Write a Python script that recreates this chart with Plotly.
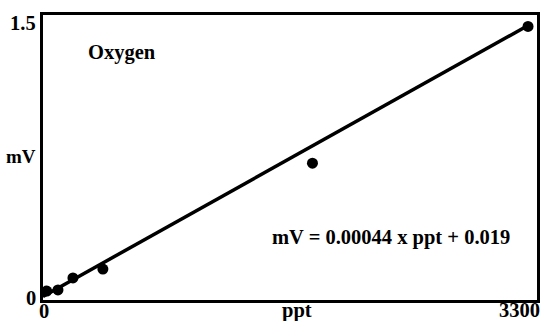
import plotly.graph_objects as go

ppt = [25, 100, 200, 400, 1800, 3240]
mv = [0.047, 0.053, 0.116, 0.163, 0.72, 1.44]
slope = 0.00044
intercept = 0.019
fit_x = [0, 3240]
fit_y = [slope * x + intercept for x in fit_x]

font = dict(family="Liberation Serif", size=20.5, color="black")

fig = go.Figure()
fig.add_trace(go.Scatter(x=fit_x, y=fit_y, mode="lines",
                         line=dict(color="black", width=3.5), showlegend=False))
fig.add_trace(go.Scatter(x=ppt, y=mv, mode="markers",
                         marker=dict(color="black", size=11), showlegend=False))


def lab(text, x, y, xanchor="center", size=20.5):
    return dict(x=x, y=y, xref="paper", yref="paper", text="<b>" + text + "</b>",
                showarrow=False, font=dict(font, size=size),
                xanchor=xanchor, yanchor="middle", borderpad=0)


fig.update_layout(
    width=542, height=321,
    margin=dict(l=43, r=5, t=15, b=21, autoexpand=False),
    plot_bgcolor="white", paper_bgcolor="white",
    font=font,
    xaxis=dict(range=[0, 3300], showgrid=False, zeroline=False,
               showline=True, linewidth=3, linecolor="black", mirror=True,
               showticklabels=False, ticks=""),
    yaxis=dict(range=[0, 1.5], showgrid=False, zeroline=False,
               showline=True, linewidth=3, linecolor="black", mirror=True,
               showticklabels=False, ticks=""),
    annotations=[
        lab("1.5", -0.012, 0.972, "right"),
        lab("0", -0.012, 0.007, "right"),
        lab("mV", -0.012, 0.502, "right", size=19),
        lab("0", 0.003, -0.037),
        lab("ppt", 0.514, -0.037),
        lab("3300", 0.921, -0.035, "left"),
        lab("Oxygen", 0.16, 0.87),
        lab("mV = 0.00044 x ppt + 0.019", 0.704, 0.218),
    ],
)
fig.write_html(
    "out.html",
    config={"displayModeBar": False, "staticPlot": True},
    post_script="document.body.style.margin='0';document.body.style.overflow='hidden';",
)
